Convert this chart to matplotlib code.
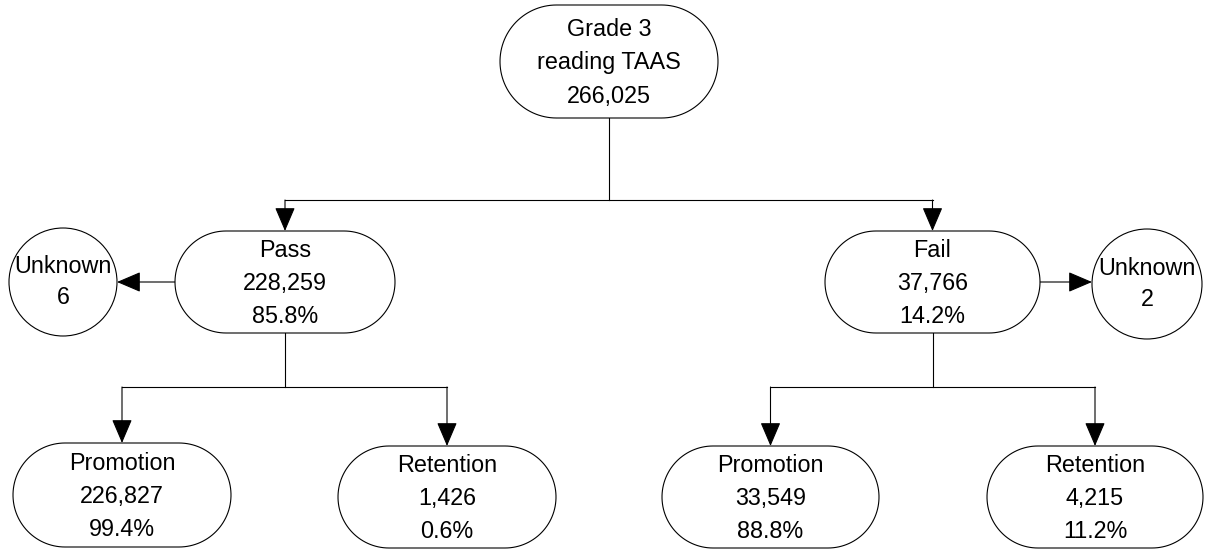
import numpy as np
import matplotlib.pyplot as plt
from matplotlib.patches import Polygon, Circle

plt.rcParams['font.family'] = ['Liberation Sans', 'DejaVu Sans']

# flowchart content
root_label = ["Grade 3", "reading TAAS", "266,025"]
level1_names = ["Pass", "Fail"]
level1_counts = ["228,259", "37,766"]
level1_pcts = ["85.8%", "14.2%"]
unknown_counts = ["6", "2"]
level2_names = ["Promotion", "Retention", "Promotion", "Retention"]
level2_counts = ["226,827", "1,426", "33,549", "4,215"]
level2_pcts = ["99.4%", "0.6%", "88.8%", "11.2%"]

# layout in pixels (x0, y0, x1, y1)
root_box = (500, 5, 718, 118)
l1_boxes = [(175, 231, 395, 333), (825, 231, 1040, 333)]
unk_circles = [(63, 282, 54), (1147, 284, 55)]
l2_boxes = [(13, 443, 231, 547), (338, 446, 556, 548),
            (662, 446, 879, 548), (987, 446, 1203, 548)]
branch_y = [200, 387]

fig = plt.figure(figsize=(12.06, 5.5), dpi=100)
ax = fig.add_axes([0, 0, 1, 1])
ax.set_xlim(0, 1206)
ax.set_ylim(550, 0)
ax.set_aspect('equal')
ax.axis('off')

FS = 16.8
LSP = 1.57
LW = 0.8


def stadium(box, lines):
    x0, y0, x1, y1 = box
    r = (y1 - y0) / 2
    yc = (y0 + y1) / 2
    t = np.linspace(-np.pi / 2, np.pi / 2, 60)
    right = np.column_stack([x1 - r + r * np.cos(t), yc + r * np.sin(t)])
    left = np.column_stack([x0 + r - r * np.cos(t), yc - r * np.sin(t)])
    pts = np.vstack([right, left])
    ax.add_patch(Polygon(pts, closed=True, fc='white', ec='black', lw=LW, zorder=2))
    ax.text((x0 + x1) / 2, yc + 1.5, "\n".join(lines), ha='center',
            va='center', fontsize=FS, linespacing=LSP, zorder=3)


def arrow(x0, y0, x1, y1):
    ax.annotate("", xy=(x1, y1), xytext=(x0, y0),
                arrowprops=dict(arrowstyle='-|>,head_length=0.75,head_width=0.32',
                                color='black', lw=LW, shrinkA=0, shrinkB=0,
                                mutation_scale=20), zorder=1)


def line(xs, ys):
    ax.plot(xs, ys, color='black', lw=LW, zorder=1)


def cx(b):
    return (b[0] + b[2]) / 2


def cy(b):
    return (b[1] + b[3]) / 2


stadium(root_box, root_label)
for i, b in enumerate(l1_boxes):
    stadium(b, [level1_names[i], level1_counts[i], level1_pcts[i]])
for i, b in enumerate(l2_boxes):
    stadium(b, [level2_names[i], level2_counts[i], level2_pcts[i]])

for i, (ux, uy, r) in enumerate(unk_circles):
    ax.add_patch(Circle((ux, uy), r, fc='white', ec='black', lw=LW, zorder=2))
    ax.text(ux, uy, "Unknown\n" + unknown_counts[i], ha='center', va='center',
            fontsize=FS, linespacing=1.45, zorder=3)

# root -> pass / fail
line([cx(root_box)] * 2, [root_box[3], branch_y[0]])
line([cx(l1_boxes[0]), cx(l1_boxes[1])], [branch_y[0]] * 2)
for b in l1_boxes:
    arrow(cx(b), branch_y[0], cx(b), b[1])

# pass / fail -> unknown
arrow(l1_boxes[0][0], cy(l1_boxes[0]), unk_circles[0][0] + unk_circles[0][2], cy(l1_boxes[0]))
arrow(l1_boxes[1][2], cy(l1_boxes[1]), unk_circles[1][0] - unk_circles[1][2], cy(l1_boxes[1]))

# pass / fail -> promotion / retention
for i, b in enumerate(l1_boxes):
    kids = l2_boxes[2 * i:2 * i + 2]
    line([cx(b)] * 2, [b[3], branch_y[1]])
    line([cx(kids[0]), cx(kids[1])], [branch_y[1]] * 2)
    for k in kids:
        arrow(cx(k), branch_y[1], cx(k), k[1])

fig.savefig("out.png", dpi=100, facecolor='white')
